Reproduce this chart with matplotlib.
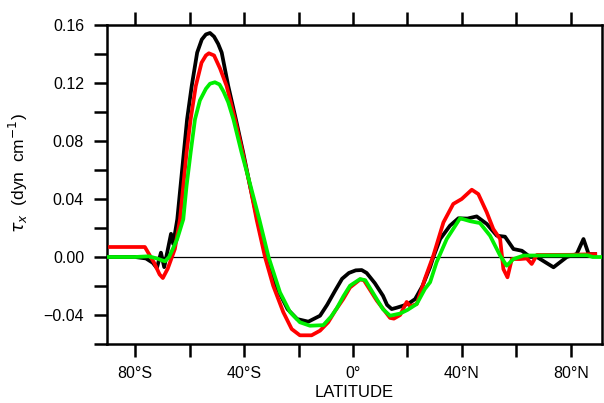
import numpy as np
import matplotlib
matplotlib.use("Agg")
import matplotlib.pyplot as plt
from matplotlib.ticker import MultipleLocator, FixedLocator

plt.rcParams['font.family'] = ['Liberation Sans', 'DejaVu Sans']
plt.rcParams['mathtext.fontset'] = 'dejavusans'

# zonal-mean zonal wind stress
lat_black = [-90, -80, -76, -73.5, -72, -70.5, -69.3, -66.8, -66.0, -64.5, -63.3, -62.1,
             -60.9, -59.2, -57.2, -55.5, -54, -52.5, -51, -49.5, -48.2, -45.8, -43, -40.3,
             -37.8, -35.1, -32, -28, -24, -20.5, -16.4, -12.1, -9.5, -6.5, -4, -1.5, 1, 3.2,
             5, 8, 11, 12.5, 14.2, 16, 18.4, 20.5, 22.8, 25.5, 28.3, 29.5, 32, 35.6, 38.7,
             42, 45.4, 49.1, 52.8, 55.8, 58.9, 62, 65, 67.5, 73.6, 78.5, 82.1, 84.6, 86.5, 88.9]
tau_black = [0.000, 0.000, -0.001, -0.004, -0.0076, 0.003, -0.007, 0.016, 0.009, 0.026, 0.049, 0.072,
             0.095, 0.118, 0.141, 0.150, 0.1535, 0.1545, 0.152, 0.147, 0.141, 0.118, 0.095, 0.072,
             0.049, 0.026, 0.000, -0.021, -0.036, -0.0428, -0.0446, -0.0405, -0.033, -0.023, -0.015, -0.011, -0.0092, -0.009,
             -0.011, -0.018, -0.0267, -0.033, -0.0359, -0.035, -0.0336, -0.032, -0.029, -0.020, -0.007, 0.000, 0.0124, 0.0216, 0.0267,
             0.0265, 0.028, 0.0228, 0.0147, 0.014, 0.0055, 0.0043, 0.000, 0.000, -0.0071, 0.000, 0.002, 0.0124, 0.002, 0.002]

lat_red = [-89.2, -76.4, -73, -71, -69.8, -68, -65.4, -63.5, -62.3, -61.1, -59.6, -57.7,
           -55.6, -54, -52.9, -51, -48.8, -46.4, -43.3, -40.5, -37.8, -35.4, -32.3, -29.3,
           -25.6, -22.5, -19.5, -15.2, -12.1, -9.1, -6.5, -3.6, -1.1, 2.6, 4, 8.7, 13.6,
           15, 17.3, 19.7, 21, 23.4, 26.4, 29.5, 33.2, 36.8, 39.9, 43.6, 46, 49.1, 51.5,
           54, 55.2, 56.7, 58.3, 61.3, 63.8, 65.6, 67.5, 80, 88.9]
tau_red = [0.0069, 0.0069, -0.004, -0.012, -0.0145, -0.008, 0.0055, 0.026, 0.049, 0.072, 0.095, 0.118,
           0.134, 0.139, 0.1405, 0.139, 0.130, 0.118, 0.095, 0.072, 0.049, 0.026, 0.000, -0.0198,
           -0.038, -0.0497, -0.054, -0.054, -0.0508, -0.045, -0.037, -0.029, -0.021, -0.0155, -0.016, -0.030, -0.042,
           -0.0425, -0.040, -0.031, -0.034, -0.0324, -0.015, 0.001, 0.0239, 0.0366, 0.040, 0.0464, 0.0434, 0.0308, 0.0193,
           0.0124, -0.0083, -0.014, -0.0014, -0.0014, -0.001, -0.0048, 0.0014, 0.0015, 0.002]

lat_green = [-90.3, -80, -75, -72, -69, -67.5, -64.6, -62.3, -61.1, -59.6, -58, -56.2,
             -54, -52.5, -50.7, -49, -47.5, -45.8, -43.9, -40.9, -37.6, -34.4, -31, -26.8,
             -23.1, -19.5, -15.8, -10.9, -8, -6, -3.5, -1.1, 2.6, 4.5, 8.7, 11, 13.6,
             17.3, 20, 23.4, 26.4, 28.3, 30.7, 34.4, 39.3, 43, 46.6, 50.3, 54, 56.4, 58.9,
             62.6, 86, 88, 91.4]
tau_green = [0.000, 0.000, 0.0005, -0.001, -0.003, 0.000, 0.012, 0.026, 0.049, 0.072, 0.095, 0.108,
             0.116, 0.1195, 0.1205, 0.119, 0.114, 0.1067, 0.095, 0.072, 0.049, 0.026, 0.000, -0.0244,
             -0.038, -0.045, -0.0474, -0.047, -0.041, -0.0355, -0.027, -0.0198, -0.0152, -0.016, -0.029, -0.036, -0.0405,
             -0.039, -0.0365, -0.0324, -0.022, -0.0174, -0.0035, 0.0124, 0.0267, 0.0247, 0.0234, 0.0147, 0.001, -0.006, -0.0014,
             0.001, 0.0012, 0.000, 0.000]

xticks = [-80, -40, 0, 40, 80]
xticklabels = ['80°S', '40°S', '0°', '40°N', '80°N']
yticks = [-0.04, 0.00, 0.04, 0.08, 0.12, 0.16]

fig = plt.figure(figsize=(6.04, 4.03), dpi=100)
ax = fig.add_axes([107/604, 1-344/403, 495/604, 319/403])

ax.axhline(0, color='black', lw=0.9, zorder=1)
ax.plot(lat_black, tau_black, color='black', lw=2.7, zorder=2)
ax.plot(lat_red, tau_red, color='#ff0000', lw=2.7, zorder=3)
ax.plot(lat_green, tau_green, color='#00ee00', lw=2.7, zorder=4)

ax.set_xlim(-90.3, 91.4)
ax.set_ylim(-0.06, 0.16)

ax.xaxis.set_major_locator(FixedLocator(xticks))
ax.set_xticklabels(xticklabels)
ax.xaxis.set_minor_locator(FixedLocator([-60, -20, 20, 60]))
ax.yaxis.set_major_locator(FixedLocator(yticks))
ax.set_yticklabels([('%.2f' % v).replace('-', '\u2212') for v in yticks])
ax.yaxis.set_minor_locator(MultipleLocator(0.02))

for s in ax.spines.values():
    s.set_linewidth(1.8)
ax.tick_params(which='both', direction='out', length=9.5, width=1.8, labelsize=11.5,
               top=True, right=False, labeltop=False)
ax.tick_params(axis='y', pad=7)
ax.tick_params(axis='x', pad=6)

ax.set_xlabel('LATITUDE', fontsize=12, labelpad=3)
ax.set_ylabel(r'$\tau_x$  (dyn  cm$^{-1}$)', fontsize=12.5)
ax.yaxis.set_label_coords(-0.155, 0.535)

fig.savefig('out.png', dpi=100)
